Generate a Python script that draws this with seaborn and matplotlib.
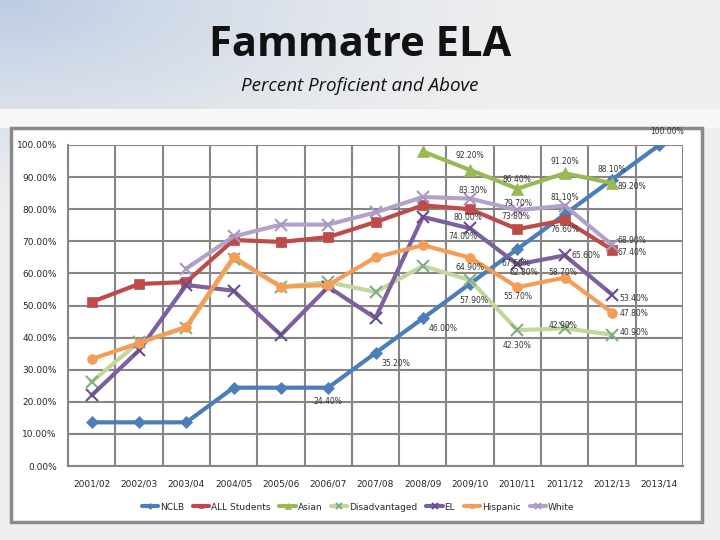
import numpy as np
import pandas as pd
import matplotlib
matplotlib.use("Agg")
import matplotlib.pyplot as plt
import seaborn as sns
from matplotlib.patches import Rectangle
from matplotlib.ticker import FuncFormatter, MultipleLocator

# --- data (percent proficient and above) ---
years = ["2001/02", "2002/03", "2003/04", "2004/05", "2005/06", "2006/07", "2007/08",
         "2008/09", "2009/10", "2010/11", "2011/12", "2012/13", "2013/14"]
nan = np.nan
nclb = [13.6, 13.6, 13.6, 24.4, 24.4, 24.4, 35.2, 46.0, 56.8, 67.6, 78.4, 89.2, 100.0]
all_students = [51.1, 56.7, 57.3, 70.4, 69.8, 71.3, 76.0, 81.2, 80.0, 73.8, 76.6, 67.4, nan]
asian = [nan, nan, nan, nan, nan, nan, nan, 98.0, 92.2, 86.4, 91.2, 88.1, nan]
disadvantaged = [26.2, 38.6, 43.0, 64.5, 55.8, 57.3, 54.2, 62.3, 57.9, 42.3, 42.9, 40.9, nan]
el = [22.0, 36.0, 56.4, 54.6, 40.8, 55.8, 46.1, 77.6, 74.0, 62.8, 65.6, 53.4, nan]
hispanic = [33.3, 38.3, 43.4, 65.1, 55.8, 56.4, 65.0, 68.8, 64.9, 55.7, 58.7, 47.8, nan]
white = [nan, nan, 61.5, 71.5, 75.2, 75.2, 79.0, 83.8, 83.3, 79.7, 81.1, 68.9, nan]

series = {
    "NCLB": nclb,
    "ALL Students": all_students,
    "Asian": asian,
    "Disadvantaged": disadvantaged,
    "EL": el,
    "Hispanic": hispanic,
    "White": white,
}

# line colour, marker, marker colour, marker size
styles = {
    "NCLB": ("#4A7EBB", "D", "#4A7EBB", 6),
    "ALL Students": ("#BE4B48", "s", "#BE4B48", 7),
    "Asian": ("#98B954", "^", "#98B954", 8),
    "Disadvantaged": ("#C3D69B", "x", "#7FAF86", 8),
    "EL": ("#7D60A0", "x", "#6A4F8C", 8),
    "Hispanic": ("#F59D56", "o", "#F59D56", 7),
    "White": ("#B3A2C7", "x", "#A898C0", 8),
}

# which points carry a value label, with offset in pixels
labels = [
    ("NCLB", "2006/07", 0, -14), ("NCLB", "2007/08", 20, -10), ("NCLB", "2008/09", 20, -10),
    ("NCLB", "2010/11", -1, -14), ("NCLB", "2012/13", 20, -7), ("NCLB", "2013/14", 8, 14),
    ("Asian", "2009/10", 0, 15), ("Asian", "2010/11", 0, 9), ("Asian", "2011/12", 0, 12),
    ("Asian", "2012/13", 0, 14),
    ("White", "2009/10", 3, 8), ("White", "2010/11", 0, 7), ("White", "2011/12", 0, 8),
    ("White", "2012/13", 20, 4),
    ("ALL Students", "2009/10", -2, -8), ("ALL Students", "2010/11", -2, 13),
    ("ALL Students", "2011/12", 0, -9), ("ALL Students", "2012/13", 20, -3),
    ("EL", "2009/10", -7, -8), ("EL", "2010/11", 6, -8), ("EL", "2011/12", 21, 0),
    ("EL", "2012/13", 22, -4),
    ("Hispanic", "2009/10", 0, -10), ("Hispanic", "2010/11", 0, -9),
    ("Hispanic", "2011/12", -2, 5), ("Hispanic", "2012/13", 22, -1),
    ("Disadvantaged", "2009/10", 4, -20), ("Disadvantaged", "2010/11", 0, -15),
    ("Disadvantaged", "2011/12", -2, 3), ("Disadvantaged", "2012/13", 22, 2),
]

rows = []
for name, vals in series.items():
    for i, (yr, v) in enumerate(zip(years, vals)):
        rows.append({"group": name, "year": yr, "pos": i, "value": v})
df = pd.DataFrame(rows)

sns.set_style("white")
plt.rcParams["font.family"] = ["DejaVu Sans"]

fig = plt.figure(figsize=(7.2, 5.4), dpi=100)
fig.patch.set_facecolor("#EEEEEE")

# slide background with soft blue in the upper-left corner, plus the white chart panel
bg = fig.add_axes([0, 0, 1, 1], zorder=-10)
gx, gy = np.meshgrid(np.linspace(0, 1, 200), np.linspace(0, 1, 150))
glow = np.clip(1 - np.hypot(gx * 1.2, gy * 2.2), 0, 1) ** 1.5
base = np.array([0.94, 0.94, 0.94])
blue = np.array([0.74, 0.80, 0.89])
img = base[None, None, :] * (1 - glow[..., None]) + blue[None, None, :] * glow[..., None]
bg.imshow(img, extent=[0, 1, 0, 1], aspect="auto", origin="upper", zorder=0)
bg.add_patch(Rectangle((0, 1 - 128 / 540), 1, 19 / 540, transform=bg.transAxes,
                       facecolor="#F7F7F7", edgecolor="none", zorder=1))
bg.add_patch(Rectangle((11 / 720, 1 - 522 / 540), 691 / 720, 394 / 540,
                       transform=bg.transAxes, facecolor="white",
                       edgecolor="#8A8A8A", linewidth=2.5, zorder=2))
bg.set_xlim(0, 1)
bg.set_ylim(0, 1)
bg.set_axis_off()

fig.text(0.5, 1 - 45 / 540, "Fammatre ELA", ha="center", va="center",
         fontsize=30, fontweight="bold", family=["Open Sans", "DejaVu Sans"], color="#111111")
fig.text(0.5, 1 - 86 / 540, "Percent Proficient and Above", ha="center", va="center",
         fontsize=13.5, style="italic", family=["Open Sans", "DejaVu Sans"], color="#111111")

ax = fig.add_axes([68 / 720, 1 - 466 / 540, 615 / 720, 321 / 540], zorder=5)
ax.set_facecolor("white")

for name in series:
    color, marker, mcolor, ms = styles[name]
    sub = df[df["group"] == name].dropna()
    sns.lineplot(data=sub, x="pos", y="value", ax=ax, color=color, linewidth=3,
                 marker=marker, markersize=ms, markeredgecolor=mcolor,
                 markerfacecolor=mcolor, markeredgewidth=1.5 if marker == "x" else 0.5,
                 label=name, zorder=3)

for name, yr, dx, dy in labels:
    i = years.index(yr)
    v = series[name][i]
    ax.annotate(f"{v:.2f}%", (i, v), xytext=(dx, dy), textcoords="offset pixels",
                ha="center", va="center", fontsize=5.5, color="#333333", zorder=5,
                annotation_clip=False)

ax.set_xlim(-0.5, len(years) - 0.5)
ax.set_ylim(0, 100)
ax.set_xticks(range(len(years)))
ax.set_xticklabels(years, fontsize=6.5)
ax.set_xticks(np.arange(-0.5, len(years), 1), minor=True)
ax.yaxis.set_major_locator(MultipleLocator(10))
ax.yaxis.set_major_formatter(FuncFormatter(lambda v, _: f"{v:.2f}%"))
ax.tick_params(axis="y", labelsize=6.5, length=4, width=1.5, color="#868686", pad=4)
ax.tick_params(axis="x", which="major", length=0, pad=10)
ax.tick_params(axis="x", which="minor", length=0)
ax.grid(axis="y", which="major", color="#868686", linewidth=1.5)
ax.grid(axis="x", which="minor", color="#868686", linewidth=1.5)
ax.grid(axis="x", which="major", visible=False)
ax.set_axisbelow(True)
for side in ["top", "right"]:
    ax.spines[side].set_visible(False)
for side in ["left", "bottom"]:
    ax.spines[side].set_color("#868686")
    ax.spines[side].set_linewidth(1.5)
ax.set_xlabel("")
ax.set_ylabel("")

handles, names = ax.get_legend_handles_labels()
ax.get_legend().remove()
fig.legend(handles, names, loc="center", bbox_to_anchor=(358 / 720, 1 - 507 / 540),
           ncol=7, frameon=False, fontsize=6.5, handlelength=1.8, handletextpad=0.2,
           columnspacing=1.0, markerscale=0.5)

fig.savefig("out.png", dpi=100, facecolor=fig.get_facecolor())
